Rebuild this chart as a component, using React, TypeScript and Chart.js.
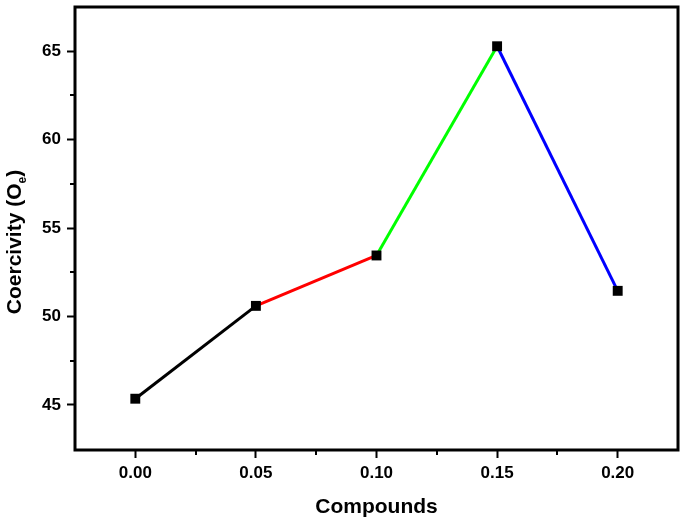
import React, { useEffect, useRef } from "react";
import { Chart, registerables } from "chart.js";

Chart.register(...registerables);

const compounds = [0.0, 0.05, 0.1, 0.15, 0.2];
const coercivity = [45.35, 50.6, 53.45, 65.28, 51.45];
const segmentColors = ["#000000", "#ff0000", "#00ff00", "#0000ff"];
const xMajorTicks = [0.0, 0.05, 0.1, 0.15, 0.2];
const xMinorTicks = [0.025, 0.075, 0.125, 0.175];
const yMajorTicks = [45, 50, 55, 60, 65];
const yMinorTicks = [47.5, 52.5, 57.5, 62.5];
const xTitle = "Compounds";
const yTitleMain = "Coercivity (O";
const yTitleSub = "e";
const yTitleEnd = ")";

const FONT = "'Liberation Sans', Arial, sans-serif";

const framePlugin = {
  id: "frame",
  afterDraw(chart: any) {
    const { ctx, chartArea } = chart;
    const xs = chart.scales.x;
    const ys = chart.scales.y;
    ctx.save();
    ctx.strokeStyle = "#000";
    ctx.lineWidth = 3;
    ctx.strokeRect(chartArea.left, chartArea.top, chartArea.right - chartArea.left, chartArea.bottom - chartArea.top);
    ctx.lineWidth = 2;
    ctx.beginPath();
    xMinorTicks.forEach((v) => {
      const px = Math.round(xs.getPixelForValue(v));
      ctx.moveTo(px, chartArea.bottom);
      ctx.lineTo(px, chartArea.bottom + 5);
    });
    yMinorTicks.forEach((v) => {
      const py = Math.round(ys.getPixelForValue(v));
      ctx.moveTo(chartArea.left, py);
      ctx.lineTo(chartArea.left - 5, py);
    });
    ctx.stroke();

    // y title with subscript
    ctx.fillStyle = "#000";
    ctx.translate(15, 242);
    ctx.rotate(-Math.PI / 2);
    const mainFont = `bold 21px ${FONT}`;
    const subFont = `bold 12px ${FONT}`;
    ctx.font = mainFont;
    const w1 = ctx.measureText(yTitleMain).width;
    const w3 = ctx.measureText(yTitleEnd).width;
    ctx.font = subFont;
    const w2 = ctx.measureText(yTitleSub).width;
    const total = w1 + w2 + w3;
    let x = -total / 2;
    ctx.textBaseline = "middle";
    ctx.textAlign = "left";
    ctx.font = mainFont;
    ctx.fillText(yTitleMain, x, 0);
    x += w1;
    ctx.font = subFont;
    ctx.fillText(yTitleSub, x, 8);
    x += w2;
    ctx.font = mainFont;
    ctx.fillText(yTitleEnd, x, 0);
    ctx.restore();
  },
};

export default function App() {
  const canvasRef = useRef<HTMLCanvasElement>(null);

  useEffect(() => {
    document.body.style.margin = "0";
    const canvas = canvasRef.current!;
    const chart = new Chart(canvas, {
      type: "line",
      data: {
        datasets: [
          {
            data: compounds.map((c, i) => ({ x: c, y: coercivity[i] })),
            borderColor: "#000",
            borderWidth: 3,
            pointStyle: "rect",
            pointRadius: 7,
            pointBackgroundColor: "#000",
            pointBorderColor: "#000",
            pointBorderWidth: 0,
            segment: {
              borderColor: (ctx: any) => segmentColors[ctx.p0DataIndex],
            },
          },
        ],
      },
      options: {
        animation: false,
        responsive: false,
        maintainAspectRatio: false,
        layout: { padding: { top: 6, right: 7, left: 0, bottom: 0 } },
        plugins: {
          legend: { display: false },
          tooltip: { enabled: false },
          title: { display: false },
        },
        scales: {
          x: {
            type: "linear",
            min: -0.025,
            max: 0.225,
            afterBuildTicks: (scale: any) => {
              scale.ticks = xMajorTicks.map((v) => ({ value: v }));
            },
            afterFit: (scale: any) => {
              scale.height = 73;
              scale.paddingLeft = 0;
              scale.paddingRight = 0;
            },
            grid: {
              drawOnChartArea: false,
              drawTicks: true,
              tickLength: 8,
              tickWidth: 2,
              tickColor: "#000",
            },
            border: { display: false },
            ticks: {
              color: "#000",
              font: { family: FONT, size: 17, weight: "bold" },
              padding: 5,
              maxRotation: 0,
              callback: (v: any) => Number(v).toFixed(2),
            },
            title: {
              display: true,
              text: xTitle,
              color: "#000",
              font: { family: FONT, size: 21, weight: "bold" },
              padding: { top: 0, bottom: 3 },
            },
          },
          y: {
            type: "linear",
            min: 42.45,
            max: 67.5,
            afterBuildTicks: (scale: any) => {
              scale.ticks = yMajorTicks.map((v) => ({ value: v }));
            },
            afterFit: (scale: any) => {
              scale.width = 75;
              scale.paddingTop = 0;
              scale.paddingBottom = 0;
            },
            grid: {
              drawOnChartArea: false,
              drawTicks: true,
              tickLength: 8,
              tickWidth: 2,
              tickColor: "#000",
            },
            border: { display: false },
            ticks: {
              color: "#000",
              font: { family: FONT, size: 17, weight: "bold" },
              padding: 6,
              callback: (v: any) => String(v),
            },
          },
        },
      },
      plugins: [framePlugin],
    });
    return () => chart.destroy();
  }, []);

  return (
    <div style={{ width: 685, height: 523 }}>
      <canvas ref={canvasRef} width={685} height={523} style={{ display: "block" }} />
    </div>
  );
}
